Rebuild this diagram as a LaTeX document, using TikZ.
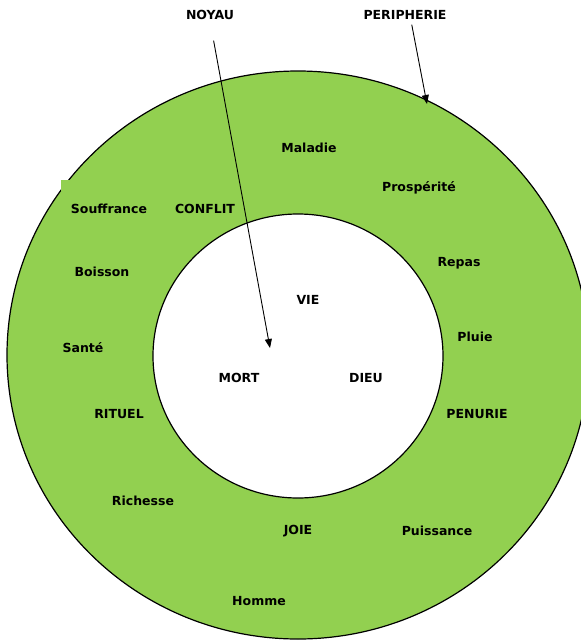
\documentclass[tikz,border=0pt]{standalone}
\usepackage{fontspec}
\setmainfont{DejaVu Sans}
\usetikzlibrary{arrows.meta}
\definecolor{vert}{RGB}{146,208,80}
\tikzset{
  mot/.style={
    font=\bfseries\fontsize{12.5}{15}\selectfont,
    inner sep = 1pt
  },
  fleche/.style={
    -{Triangle[length=9pt,width=7pt]},
    line width=0.9pt
  },
  anneau/.style={
    draw,
    line width=1.2pt
  }
}

\begin{document}
\begin{tikzpicture}[x=1pt,y=-1pt]
            \useasboundingbox (0,0) rectangle (581,641);
            \draw[anneau,fill=vert] (298,355) ellipse [x radius=291, y radius=284];
            \draw[anneau,fill=white] (298,356) ellipse [x radius=145, y radius=142];
            \fill[vert] (61,180) rectangle (70,191);
            \foreach \n/\x/\y/\t in {noyau/210/15/NOYAU, peripherie/405/15/PERIPHERIE,
                    maladie/309/148/Maladie, prosperite/419/188/Prospérité,
                    souffrance/109/209/Souffrance, conflit/205/209/CONFLIT,
                    repas/459/263/Repas, boisson/102/272/Boisson, vie/308/300/VIE,
                    pluie/475/337/Pluie, sante/83/348/Santé, mort/239/378/MORT,
                    dieu/366/378/DIEU, rituel/119/414/RITUEL, penurie/477/414/PENURIE,
                    richesse/143/501/Richesse, joie/298/531/JOIE,
                    puissance/437/531/Puissance, homme/259/601/Homme}{
                    \node[mot] (\n) at (\x,\y) {\t};
                }
            \coordinate (centre) at (270,348);
            \coordinate (bord) at (427,104);
            \draw[fleche,shorten <=20pt] (noyau.south) -- (centre);
            \draw[fleche,shorten <=4pt] ([xshift=6pt]peripherie.south) -- (bord);
        \end{tikzpicture}
\end{document}
